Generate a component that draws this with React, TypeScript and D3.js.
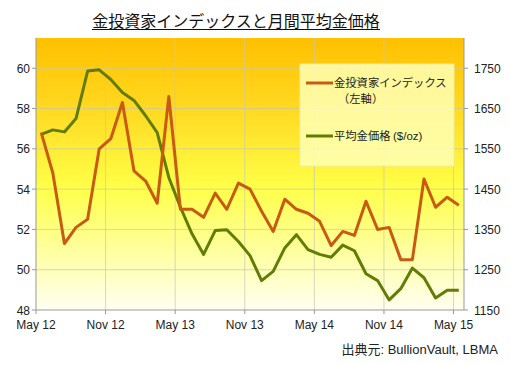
import React from "react";
import * as d3 from "d3";

// months from May 12 to May 15
const months = d3.range(37);
const tickMonths = [0, 6, 12, 18, 24, 30, 36];
const tickLabels = ["May 12", "Nov 12", "May 13", "Nov 13", "May 14", "Nov 14", "May 15"];

// gold investor index (left axis)
const indexValues = [
  56.8, 54.8, 51.3, 52.1, 52.5, 56.0, 56.5, 58.3, 54.9, 54.4, 53.3, 58.6,
  53.0, 53.0, 52.6, 53.8, 53.0, 54.3, 54.0, 52.9, 51.9, 53.5, 53.0, 52.8,
  52.4, 51.2, 51.9, 51.7, 53.4, 52.0, 52.1, 50.5, 50.5, 54.5, 53.1, 53.6, 53.2,
];

// monthly average gold price (right axis)
const priceValues = [
  1586, 1597, 1592, 1625, 1743, 1746, 1722, 1690, 1670, 1632, 1590, 1479,
  1405, 1339, 1288, 1347, 1349, 1320, 1285, 1223, 1246, 1304, 1337, 1300,
  1288, 1281, 1311, 1297, 1240, 1223, 1175, 1203, 1254, 1230, 1180, 1199, 1199,
];

const leftTicks = [48, 50, 52, 54, 56, 58, 60];
const rightTicks = [1150, 1250, 1350, 1450, 1550, 1650, 1750];

export default function App() {
  const width = 510;
  const height = 365;
  const left = 36;
  const right = 464;
  const top = 38;
  const bottom = 310;

  const x = d3.scaleLinear().domain([0, 36.9]).range([left, right]);
  const yL = d3.scaleLinear().domain([48, 61.5]).range([bottom, top]);
  const yR = d3.scaleLinear().domain([1150, 1825]).range([bottom, top]);

  const lineIdx = d3.line<number>()
    .x((_, i) => x(months[i] + 0.45))
    .y((d) => yL(d));
  const linePrice = d3.line<number>()
    .x((_, i) => x(months[i] + 0.45))
    .y((d) => yR(d));

  const latin = "'Liberation Sans', Arial, sans-serif";
  const jp = "'Noto Sans CJK JP', sans-serif";
  const orange = "#c85a12";
  const green = "#627d06";

  return (
    <svg width={width} height={height} style={{ position: "absolute", left: 0, top: 0 }}>
      <defs>
        <linearGradient id="bg" x1="0" y1="0" x2="0" y2="1">
          <stop offset="0%" stopColor="#ffc000" />
          <stop offset="25%" stopColor="#ffd820" />
          <stop offset="55%" stopColor="#ffff48" />
          <stop offset="100%" stopColor="#fffff2" />
        </linearGradient>
      </defs>
      <rect width={width} height={height} fill="#fff" />

      {/* title */}
      <text x={236} y={27} textAnchor="middle" fontFamily={jp} fontSize={16} fill="#111">
        金投資家インデックスと月間平均金価格
      </text>
      <line x1={92} x2={380} y1={29.5} y2={29.5} stroke="#111" strokeWidth={1} />

      {/* plot background */}
      <rect x={left} y={top} width={right - left} height={bottom - top} fill="url(#bg)" />

      {/* grid */}
      {leftTicks.slice(1).map((t) => (
        <line key={"h" + t} x1={left} x2={right} y1={yL(t)} y2={yL(t)}
          stroke="#c8c8b0" strokeOpacity={0.7} />
      ))}
      {tickMonths.slice(1).map((m) => (
        <line key={"v" + m} x1={x(m)} x2={x(m)} y1={top} y2={bottom}
          stroke="#c8c8b0" strokeOpacity={0.7} />
      ))}

      {/* axes */}
      <line x1={left} x2={left} y1={top} y2={bottom} stroke="#999" />
      <line x1={right} x2={right} y1={top} y2={bottom} stroke="#999" />
      <line x1={left} x2={right} y1={bottom} y2={bottom} stroke="#999" />
      {leftTicks.map((t) => (
        <g key={"l" + t}>
          <line x1={left - 4} x2={left} y1={yL(t)} y2={yL(t)} stroke="#999" />
          <text x={30} y={yL(t) + 4.5} textAnchor="end" fontFamily={latin} fontSize={12} fill="#222">{t}</text>
        </g>
      ))}
      {rightTicks.map((t) => (
        <g key={"r" + t}>
          <line x1={right} x2={right + 4} y1={yR(t)} y2={yR(t)} stroke="#999" />
          <text x={474} y={yR(t) + 4.5} fontFamily={latin} fontSize={12} fill="#222">{t}</text>
        </g>
      ))}
      {tickMonths.map((m, i) => (
        <g key={"x" + m}>
          <line x1={x(m)} x2={x(m)} y1={bottom} y2={bottom + 4} stroke="#999" />
          <text x={x(m)} y={329} textAnchor="middle" fontFamily={latin} fontSize={12} fill="#222">
            {tickLabels[i]}
          </text>
        </g>
      ))}

      {/* legend */}
      <rect x={300} y={64} width={154} height={102} fill="#ffffb4" fillOpacity={0.85} stroke="#f0f0a0" />
      <line x1={306} x2={333} y1={83} y2={83} stroke={orange} strokeWidth={3} />
      <text x={334} y={87} fontFamily={jp} fontSize={11.3} fill="#222">金投資家インデックス</text>
      <text x={338} y={103} fontFamily={jp} fontSize={11.3} fill="#222">（左軸）</text>
      <line x1={306} x2={333} y1={136} y2={136} stroke={green} strokeWidth={3} />
      <text x={334} y={140} fontFamily={jp} fontSize={11.3} fill="#222">
        平均金価格 <tspan fontFamily={latin} fontSize={11.5}>($/oz)</tspan>
      </text>

      {/* series */}
      <path d={linePrice(priceValues) || ""} fill="none" stroke={green} strokeWidth={3} strokeLinejoin="round" />
      <path d={lineIdx(indexValues) || ""} fill="none" stroke={orange} strokeWidth={3} strokeLinejoin="round" />

      {/* source */}
      <text x={498} y={354} textAnchor="end" fontSize={13} fill="#222">
        <tspan fontFamily={jp}>出典元</tspan>
        <tspan fontFamily={latin}>: BullionVault,  LBMA</tspan>
      </text>
    </svg>
  );
}
